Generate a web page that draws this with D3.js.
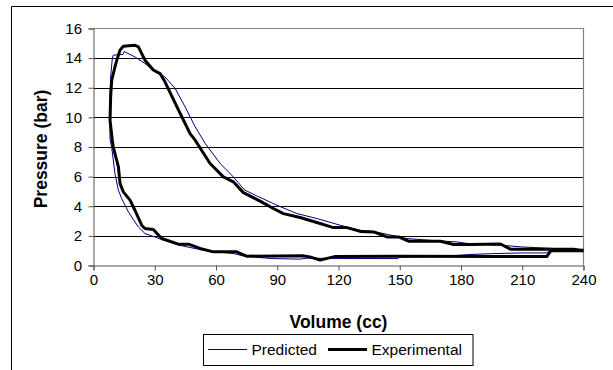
<!DOCTYPE html>
<html>
<head>
<meta charset="utf-8">
<script src="https://cdn.jsdelivr.net/npm/d3@7"></script>
<style>
  body { margin: 0; background: #fff; }
  text { font-family: "Liberation Sans", Arial, sans-serif; }
</style>
</head>
<body>
<div id="chart"></div>
<script>
// loop points, starting at bottom dead centre, compression branch first
var predVolume = [240, 224, 222, 210, 195, 184, 175, 150, 149, 120, 105, 101, 87, 74, 68.5, 60, 52, 42, 33.4, 25.2, 22, 19.5, 17.1, 13.8, 12.2, 10.5, 8.9, 8.1, 8.0, 8.1, 8.4, 9.2, 9.7, 14.5, 15, 20.3, 25.2, 30.1, 35, 40, 44.9, 49.8, 54.7, 62, 68.5, 74, 80, 89.8, 99.6, 109.4, 120.8, 130.6, 137.2, 153.5, 165, 178, 185, 200, 209, 225, 240];
var predPressure = [1.05, 1.03, 0.85, 0.85, 0.8, 0.74, 0.65, 0.55, 0.47, 0.47, 0.5, 0.43, 0.47, 0.63, 0.81, 0.92, 1.08, 1.37, 1.76, 2.16, 2.6, 3.1, 3.62, 4.52, 5.08, 6.2, 8.0, 8.5, 10, 11.4, 12.7, 13.97, 14.2, 14.25, 14.45, 14.08, 13.64, 13.07, 12.73, 11.95, 10.7, 9.36, 8.24, 6.89, 5.98, 5.1, 4.7, 4.07, 3.51, 3.17, 2.72, 2.38, 2.3, 1.82, 1.7, 1.59, 1.45, 1.37, 1.26, 1.15, 1.1];

var expVolume = [240, 224, 222, 200, 150, 118, 111, 106, 102.8, 75, 71.8, 70.2, 58.7, 52.2, 46.5, 41.6, 33.4, 29.3, 25.2, 23.6, 20.3, 17.9, 14.6, 13, 12.2, 10.5, 9.7, 9.2, 8.1, 8.4, 8.9, 10.5, 11.4, 13, 14.6, 20.3, 22, 25.2, 29.3, 32.6, 35, 41.6, 47.3, 49.8, 57.1, 63.6, 68.5, 73.4, 81.6, 88.1, 93, 101.2, 109.4, 117.5, 124.1, 130.6, 137.2, 143.7, 149.4, 154.3, 169.9, 176.4, 184.6, 199.3, 204.2, 235.2, 240];
var expPressure = [1.0, 1.0, 0.6, 0.6, 0.62, 0.6, 0.36, 0.58, 0.65, 0.63, 0.81, 0.92, 0.92, 1.15, 1.44, 1.44, 1.82, 2.43, 2.5, 2.72, 3.73, 4.41, 4.97, 5.54, 6.66, 7.56, 8.0, 8.46, 9.8, 11.4, 12.5, 13.4, 13.86, 14.54, 14.8, 14.87, 14.76, 13.86, 13.2, 12.96, 12.4, 10.5, 8.9, 8.46, 6.89, 5.98, 5.65, 4.92, 4.35, 3.85, 3.5, 3.24, 2.9, 2.56, 2.56, 2.3, 2.27, 1.93, 1.93, 1.64, 1.64, 1.42, 1.42, 1.45, 1.1, 1.1, 0.97];

var xTicks = [0, 30, 60, 90, 120, 150, 180, 210, 240];
var yTicks = [0, 2, 4, 6, 8, 10, 12, 14, 16];
var seriesNames = ["Predicted", "Experimental"];
var seriesColors = ["#000080", "#000000"];
var seriesWidths = [1, 3];

var width = 613, height = 370;
var plot = {left: 93.5, right: 583.5, top: 28.5, bottom: 265.5};

var svg = d3.select("#chart")
    .append("svg")
    .attr("width", width)
    .attr("height", height);

// outer chart border (only top and left visible in frame)
svg.append("path")
    .attr("d", "M11.5,370 V6.5 H613")
    .attr("fill", "none")
    .attr("stroke", "#000")
    .attr("stroke-width", 1);

var x = d3.scaleLinear().domain([0, 240]).range([plot.left, plot.right]);
var y = d3.scaleLinear().domain([0, 16]).range([plot.bottom, plot.top]);

// gridlines
svg.append("g")
    .selectAll("line")
    .data(yTicks.filter(function (d) { return d > 0 && d < 16; }))
    .enter().append("line")
    .attr("x1", plot.left)
    .attr("x2", plot.right)
    .attr("y1", function (d) { return Math.round(y(d)) + 0.5; })
    .attr("y2", function (d) { return Math.round(y(d)) + 0.5; })
    .attr("stroke", "#000")
    .attr("stroke-width", 1);

// plot area border top / right
svg.append("path")
    .attr("d", "M" + plot.left + "," + plot.top + " H" + plot.right + " V" + plot.bottom)
    .attr("fill", "none")
    .attr("stroke", "#808080")
    .attr("stroke-width", 1.2);

var xAxis = svg.append("g")
    .attr("transform", "translate(0," + plot.bottom + ")")
    .call(d3.axisBottom(x).tickValues(xTicks).tickSizeOuter(0).tickSize(5).tickPadding(4));

var yAxis = svg.append("g")
    .attr("transform", "translate(" + plot.left + ",0)")
    .call(d3.axisLeft(y).tickValues(yTicks).tickSizeOuter(0).tickSize(5).tickPadding(6.5));

[xAxis, yAxis].forEach(function (ax) {
    ax.select(".domain").attr("stroke", "#555");
    ax.selectAll(".tick line").attr("stroke", "#555");
    ax.selectAll("text")
        .attr("fill", "#000")
        .style("font-size", "15px")
        .style("font-family", "'Liberation Sans', Arial, sans-serif");
});

// series
var predData = predVolume.map(function (v, i) { return [v, predPressure[i]]; });
var expData = expVolume.map(function (v, i) { return [v, expPressure[i]]; });

var line = d3.line()
    .x(function (d) { return x(d[0]); })
    .y(function (d) { return y(d[1]); });

svg.append("path")
    .datum(predData)
    .attr("d", line)
    .attr("fill", "none")
    .attr("stroke", seriesColors[0])
    .attr("stroke-width", seriesWidths[0]);

svg.append("path")
    .datum(expData)
    .attr("d", line)
    .attr("fill", "none")
    .attr("stroke", seriesColors[1])
    .attr("stroke-width", seriesWidths[1])
    .attr("stroke-linejoin", "round");

// axis titles
svg.append("text")
    .attr("x", (plot.left + plot.right) / 2)
    .attr("y", 328)
    .attr("text-anchor", "middle")
    .style("font-weight", "bold")
    .style("font-size", "17.5px")
    .text("Volume (cc)");

svg.append("text")
    .attr("transform", "translate(47," + ((plot.top + plot.bottom) / 2 + 2) + ") rotate(-90)")
    .attr("text-anchor", "middle")
    .style("font-weight", "bold")
    .style("font-size", "17.5px")
    .text("Pressure (bar)");

// legend
var legend = svg.append("g");
legend.append("rect")
    .attr("x", 203.5)
    .attr("y", 334.5)
    .attr("width", 269.5)
    .attr("height", 31)
    .attr("fill", "#fff")
    .attr("stroke", "#000")
    .attr("stroke-width", 1);

var legendItems = [
    {x1: 208, x2: 247, tx: 251.5},
    {x1: 328, x2: 367, tx: 371.5}
];

legendItems.forEach(function (it, i) {
    legend.append("line")
        .attr("x1", it.x1)
        .attr("x2", it.x2)
        .attr("y1", 349.5)
        .attr("y2", 349.5)
        .attr("stroke", seriesColors[i])
        .attr("stroke-width", seriesWidths[i]);
    legend.append("text")
        .attr("x", it.tx)
        .attr("y", 354.5)
        .style("font-size", "15.5px")
        .text(seriesNames[i]);
});
</script>
</body>
</html>
